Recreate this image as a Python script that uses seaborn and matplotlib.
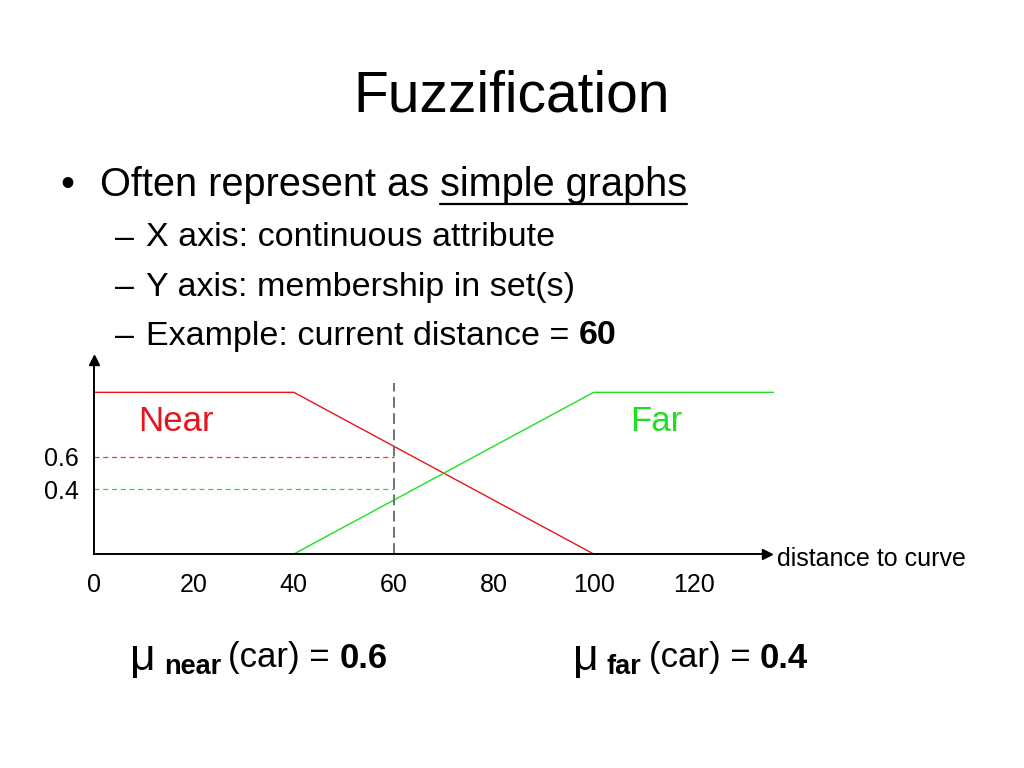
import matplotlib
matplotlib.use("Agg")
import matplotlib.pyplot as plt
import seaborn as sns
import pandas as pd

# ---- data ----
near_x = [0, 40, 100]
near_y = [1, 1, 0]
far_x = [40, 100, 136]
far_y = [0, 1, 1]
current_distance = 60
mu_near = 0.6
mu_far = 0.4
x_ticks = [0, 20, 40, 60, 80, 100, 120]
y_ticks = [0.4, 0.6]

sns.set_theme(style="white")
plt.rcParams['font.family'] = ['Liberation Sans', 'DejaVu Sans']
plt.rcParams['text.color'] = 'black'
plt.rcParams['xtick.color'] = 'black'
plt.rcParams['ytick.color'] = 'black'

RED = '#e8141c'
GREEN = '#1ee01e'

fig = plt.figure(figsize=(10.24, 7.68), dpi=100)
fig.patch.set_facecolor('white')

W, H = 1024, 768
def fx(px):
    return px / W
def fy(py):
    return 1 - py / H

ax = fig.add_axes([fx(94), fy(554), fx(767) - fx(94), fy(360) - fy(554)])
ax.set_xlim(0, 134.7)
ax.set_ylim(0, 1.2)
ax.set_facecolor('white')

df = pd.concat([
    pd.DataFrame({'distance': near_x, 'membership': near_y, 'set': 'Near'}),
    pd.DataFrame({'distance': far_x, 'membership': far_y, 'set': 'Far'}),
])
sns.lineplot(data=df, x='distance', y='membership', hue='set', palette={'Near': RED, 'Far': GREEN},
             ax=ax, legend=False, linewidth=1.0, sort=False, estimator=None)
for ln in ax.lines:
    ln.set_clip_on(False)

# dashed helper lines
ax.plot([0, current_distance], [mu_near, mu_near], color=RED, ls=(0, (4, 3)), lw=0.9, alpha=0.85)
ax.plot([0, current_distance], [mu_far, mu_far], color=GREEN, ls=(0, (4, 3)), lw=0.9)
ax.plot([current_distance, current_distance], [0, 1.055], color='#666666', ls=(0, (6, 3)), lw=1.3, clip_on=False)

# axes with arrows
for s in ['top', 'right']:
    ax.spines[s].set_visible(False)
for s in ['left', 'bottom']:
    ax.spines[s].set_color('black')
    ax.spines[s].set_linewidth(1.4)
ax.plot(1, 0, '>', color='black', markersize=7, transform=ax.transAxes, clip_on=False)
ax.plot(0, 1, '^', color='black', markersize=7, transform=ax.transAxes, clip_on=False)

ax.set_xticks(x_ticks)
ax.set_xticklabels([str(t) for t in x_ticks], fontsize=18)
ax.set_yticks(y_ticks)
ax.set_yticklabels([str(t) for t in y_ticks], fontsize=18)
ax.tick_params(axis='x', length=0, pad=14)
ax.tick_params(axis='y', length=0, pad=11)
ax.set_xlabel('')
ax.set_ylabel('')
ax.grid(False)

ax.text(8.8, 0.82, 'Near', color=RED, fontsize=25, ha='left', va='center')
ax.text(107.4, 0.82, 'Far', color=GREEN, fontsize=25, ha='left', va='center')
ax.text(136.7, -0.03, 'distance to curve', fontsize=18, ha='left', va='center')

# slide text
fig.text(0.5, fy(97), 'Fuzzification', fontsize=41, ha='center', va='center')
fig.text(fx(60), fy(185), '•', fontsize=28.6, ha='left', va='center')
t1 = fig.text(fx(100), fy(185), 'Often represent as ', fontsize=28.6, ha='left', va='center')
fig.canvas.draw()
r = fig.canvas.get_renderer()
bb = t1.get_window_extent(renderer=r)
x2 = bb.x1 / W
t2 = fig.text(x2, fy(185), 'simple graphs', fontsize=28.6, ha='left', va='center')
fig.canvas.draw()
bb2 = t2.get_window_extent(renderer=r)
fig.add_artist(plt.Line2D([bb2.x0 / W, bb2.x1 / W], [fy(204), fy(204)], color='black', lw=1.6))

for py, s in [(238, 'X axis: continuous attribute'), (287, 'Y axis: membership in set(s)')]:
    fig.text(fx(115), fy(py), '–', fontsize=24.5, ha='left', va='center')
    fig.text(fx(146), fy(py), s, fontsize=24.5, ha='left', va='center')
fig.text(fx(115), fy(336), '–', fontsize=24.5, ha='left', va='center')
ex = fig.text(fx(146), fy(336), 'Example: current distance = ', fontsize=24.5, ha='left', va='center')
fig.canvas.draw()
tmp = ex.get_window_extent(renderer=r)
fig.text(tmp.x1 / W, fy(336), str(current_distance), fontsize=24.5, fontweight='bold', ha='left', va='center')

def formula(x0, word, val):
    y = fy(658)
    a = fig.text(fx(x0), fy(659), 'μ', fontsize=32, ha='left', va='center')
    fig.canvas.draw()
    e = a.get_window_extent(renderer=r)
    b = fig.text(e.x1 / W + 0.008, fy(667), word, fontsize=19.5, fontweight='bold', ha='left', va='center')
    fig.canvas.draw()
    e = b.get_window_extent(renderer=r)
    c = fig.text(e.x1 / W + 0.007, y, '(car) = ', fontsize=25, ha='left', va='center')
    fig.canvas.draw()
    e = c.get_window_extent(renderer=r)
    fig.text(e.x1 / W, y, val, fontsize=25, fontweight='bold', ha='left', va='center')

formula(130, 'near', str(mu_near))
formula(573, 'far', str(mu_far))

fig.savefig('out.png', dpi=100, facecolor='white')
